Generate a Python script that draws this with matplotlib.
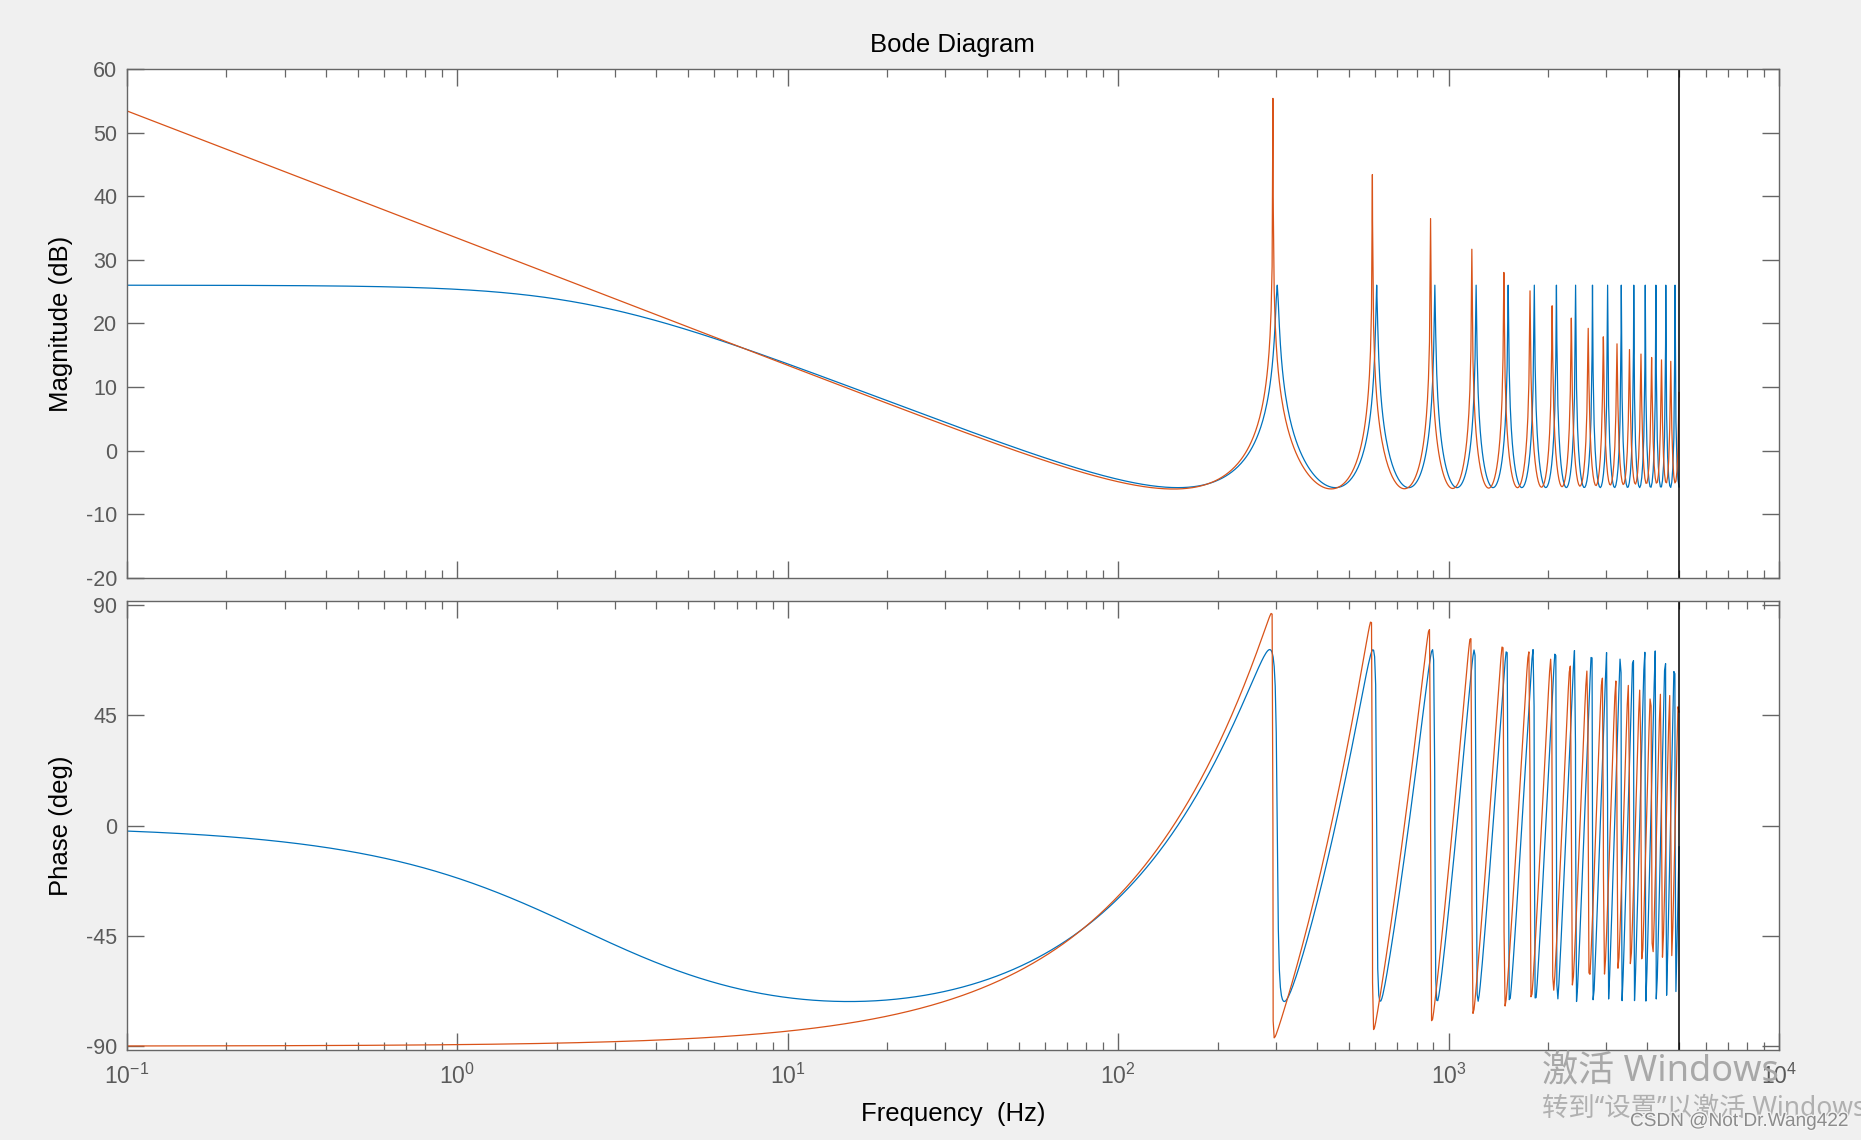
import numpy as np
import matplotlib.pyplot as plt
import matplotlib.patheffects as pe
from matplotlib.ticker import LogLocator, NullFormatter, FixedLocator

plt.rcParams['font.family'] = ['Liberation Sans', 'DejaVu Sans']
plt.rcParams['axes.unicode_minus'] = False
plt.rcParams['mathtext.default'] = 'regular'

fs = 10000.0
delay = [33, 34]                        # delay in samples -> peaks every ~303 Hz / ~294 Hz
q_taps = [[0.95], [0.05, 0.9, 0.05]]    # blue: flat Q (26 dB peaks), orange: zero-phase low-pass Q
colors = ['#0072BD', '#D95319']

f_lo, f_hi = 0.1, 4985.0
n_grid = 1500
mag_ticks = [-20, -10, 0, 10, 20, 30, 40, 50, 60]
phase_ticks = [-90, -45, 0, 45, 90]


def response(n, taps):
    # frequency grid plus the resonance frequencies so the peaks are hit
    peaks = np.arange(1, n) * fs / n
    f = np.union1d(np.logspace(np.log10(f_lo), np.log10(f_hi), n_grid), peaks[peaks < f_hi])
    z = np.exp(1j * 2 * np.pi * f / fs)
    c = (len(taps) - 1) / 2
    q = sum(t * z ** (c - i) for i, t in enumerate(taps))
    h = 1.0 / (1.0 - q * z ** (-n))
    return f, 20 * np.log10(np.abs(h)), np.degrees(np.angle(h))


fig = plt.figure(figsize=(18.61, 11.40), dpi=100, facecolor='#F0F0F0')
ax1 = fig.add_axes([0.0682, 0.4930, 0.8877, 0.4465])
ax2 = fig.add_axes([0.0682, 0.0789, 0.8877, 0.3939])

for n, taps, col in zip(delay, q_taps, colors):
    f, mag, ph = response(n, taps)
    ax1.semilogx(f, mag, color=col, lw=0.9)
    ax2.semilogx(f, ph, color=col, lw=0.9)

for ax in (ax1, ax2):
    ax.axvline(fs / 2, color='black', lw=1.1)
    ax.set_xscale('log')
    ax.set_xlim(0.1, 1e4)
    ax.set_facecolor('white')
    ax.xaxis.set_major_locator(LogLocator(base=10, numticks=10))
    ax.xaxis.set_minor_locator(LogLocator(base=10, subs=np.arange(2, 10), numticks=20))
    ax.xaxis.set_minor_formatter(NullFormatter())
    ax.tick_params(which='both', direction='in', top=True, right=True, color='#666666')
    ax.tick_params(which='major', length=12, width=1.0)
    ax.tick_params(which='minor', length=6, width=0.9)
    ax.tick_params(axis='y', labelsize=15.5, labelcolor='#5a5a5a', pad=7)
    ax.tick_params(axis='x', labelsize=16.5, labelcolor='#5a5a5a', pad=10)
    for s in ax.spines.values():
        s.set_color('#666666')
        s.set_linewidth(1.0)

ax1.set_ylim(-20, 60)
ax1.yaxis.set_major_locator(FixedLocator(mag_ticks))
ax1.tick_params(axis='x', labelbottom=False)
ax1.set_title('Bode Diagram', fontsize=18.5, pad=12)

ax2.set_ylim(-91.6, 91.6)
ax2.yaxis.set_major_locator(FixedLocator(phase_ticks))

fig.text(0.0328, 0.716, 'Magnitude (dB)', rotation=90, ha='center', va='center', fontsize=18.5)
fig.text(0.0328, 0.276, 'Phase (deg)', rotation=90, ha='center', va='center', fontsize=18.5)
fig.text(0.512, 1 - 1121 / 1140, 'Frequency  (Hz)', ha='center', va='baseline', fontsize=18.5)

# watermark text visible on the screenshot
cjk = ['Noto Sans', 'Noto Sans CJK SC', 'DejaVu Sans']
fig.text(1542 / 1861, 1 - 1081 / 1140, '激活 Windows', family=cjk, fontsize=26,
         color='#a8a8a8', va='baseline')
fig.text(1542 / 1861, 1 - 1116 / 1140, '转到“设置”以激活 Windows', family=cjk, fontsize=19,
         color='#b0b0b0', va='baseline')
fig.text(1630 / 1861, 1 - 1126 / 1140, 'CSDN @Not Dr.Wang422', fontsize=13.7, color='#8c8c8c',
         va='baseline', path_effects=[pe.withStroke(linewidth=2, foreground='#f4f4f4')])

fig.savefig('out.png', dpi=100, facecolor=fig.get_facecolor())
